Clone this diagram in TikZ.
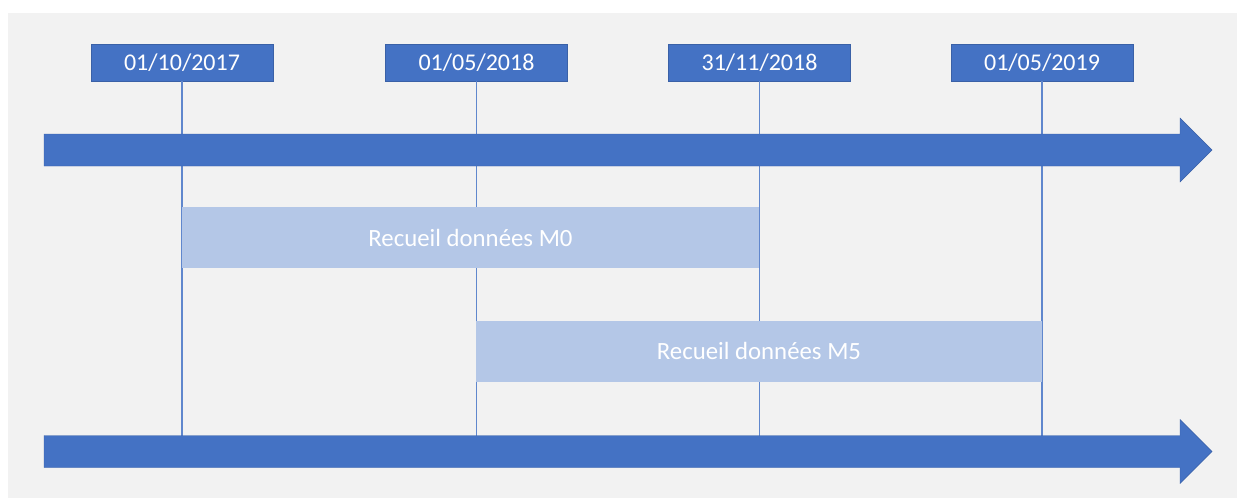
\documentclass[tikz,border=0pt]{standalone}
\usepackage{fontspec}
\setmainfont{Carlito}
\usepackage{xcolor}
\usetikzlibrary{calc}
\usetikzlibrary{positioning}
\definecolor{bleu}{HTML}{4472C4}
\definecolor{bleuclair}{HTML}{B4C7E7}
\definecolor{fond}{HTML}{F2F2F2}

\begin{document}
\begin{tikzpicture}[x=0.5pt,y=-0.5pt]
	\tikzstyle{date}=[fill=bleu, draw=bleu!85!black, line width=0.3pt, text=white, inner sep=0pt, minimum width=91pt, minimum height=18.5pt, font=\fontsize{12}{14}\selectfont]
	\tikzstyle{recueil}=[fill=bleuclair, text=white, inner sep=0pt, minimum height=30.5pt, font=\fontsize{12.4}{14}\selectfont]
	\tikzstyle{ligne}=[draw=bleu!85, line width=0.6pt]
	\tikzstyle{axe}=[fill=bleu, draw=bleu!85!black, line width=0.2pt]
		\useasboundingbox (0,0) rectangle (1237,498);
		\fill[fond] (8,13) rectangle (1237,498);
			\node[date] (d1) at (182,62.5) {01/10/2017};
			\node[date] (d2) at (476.5,62.5) {01/05/2018};
			\node[date] (d3) at (759.5,62.5) {31/11/2018};
			\node[date] (d4) at (1042,62.5) {01/05/2019};
			\coordinate (bas) at (0,436);
				\foreach \i in {1,...,4}{
					\draw[ligne] (d\i.south) -- (d\i.south |- bas);
					}
				\foreach \y in {150,451.5}{
					\path[axe] (44,\y-16) -- (1180,\y-16) -- (1180,\y-32) -- (1212,\y) -- (1180,\y+32) -- (1180,\y+16) -- (44,\y+16) -- cycle;
					}
			\node[recueil, minimum width=288.5pt] (m0) at (470.5,237.5) {Recueil données M0};
			\node[recueil, minimum width=283pt] (m5) at (759,351) {Recueil données M5};
\end{tikzpicture}
\end{document}
